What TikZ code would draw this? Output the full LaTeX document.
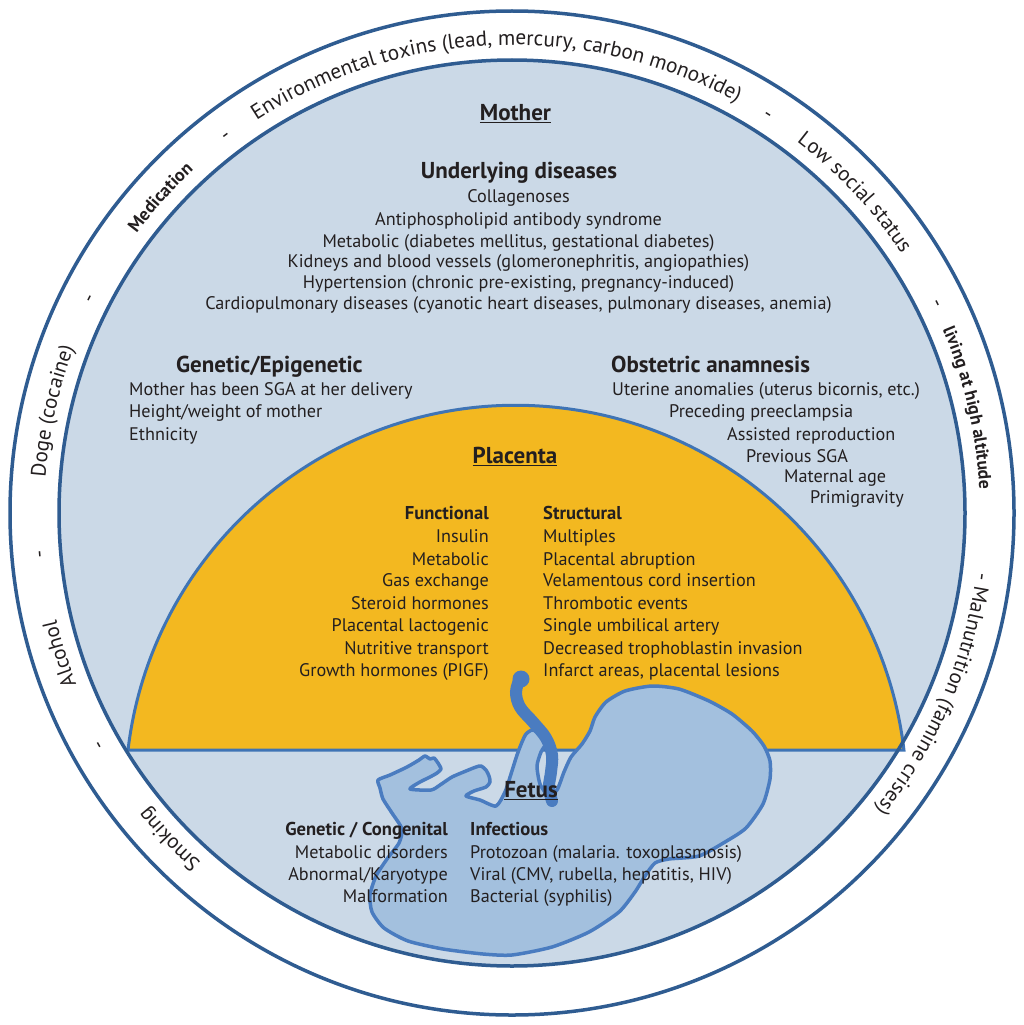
\documentclass[tikz,border=0pt]{standalone}
\usepackage{fontspec}
\setmainfont{PT Sans}
\usetikzlibrary{decorations.text}

\definecolor{ink}{HTML}{231F20}
\definecolor{mother}{HTML}{CBD9E7}
\definecolor{ringline}{HTML}{2F5C91}
\definecolor{placenta}{HTML}{F3B820}
\definecolor{placline}{HTML}{3F74B5}
\definecolor{fetusfill}{HTML}{A3C0DE}
\definecolor{fetusline}{HTML}{4A7CC0}

\tikzset{
  item/.style={inner sep=0pt, text=ink, font=\fontsize{18.2}{21}\selectfont},
  itemb/.style={item, font=\fontsize{18.6}{21}\selectfont\bfseries},
  head/.style={item, font=\fontsize{23}{26}\selectfont\bfseries},
  title/.style={item, font=\fontsize{23}{26}\selectfont\bfseries},
  ringline/.style={draw=ringline, line width=3.5pt},
}

% text set on the ring, clockwise, centred at angle #1
\newcommand\ringtext[3]{%
  \path[decorate, decoration={text along path, text align=center,
      text={|\color{ink}#3|#2}}]
    ([shift={(#1+45:468)}]C) arc[start angle=#1+45, end angle=#1-45, radius=468];}

\begin{document}
\begin{tikzpicture}[x=1pt, y=1pt]
\useasboundingbox (0,0) rectangle (1024,-1025);
\fill[white] (0,0) rectangle (1024,-1025);
\coordinate (C) at (512,-513);

% outer ring and mother disc
\fill[white] (C) circle (502);
\draw[ringline] (C) circle (502);
\fill[mother] (C) circle (453);

% placenta: circular segment above its base line
\filldraw[fill=placenta, draw=placline, line width=3pt]
  (128,-750) arc[start angle=173.24, end angle=6.76, radius=390.7] -- cycle;

% fetus
\filldraw[fill=fetusfill, draw=fetusline, line width=3.5pt, line join=round]
  plot[smooth cycle, tension=0.4] coordinates {
  (378,-780) (390,-775) (407,-767) (419,-760) (425,-756) (430,-759) (434,-758)
  (438,-763) (441,-769) (437,-773) (430,-777) (420,-782) (410,-789) (431,-790)
  (440,-785) (452,-777) (466,-771) (476,-767) (481,-766) (486,-770) (489,-776)
  (490,-782) (486,-787) (474,-791) (466,-796) (480,-800) (496,-806) (505,-792)
  (511,-774) (517,-755) (522,-742) (526,-734) (532,-730) (538,-732) (544,-736)
  (547,-742) (541,-752) (537,-766) (540,-784) (548,-795) (557,-790) (564,-772)
  (571,-757) (582,-744) (590,-731) (595,-717) (606,-702) (625,-691) (652,-686)
  (679,-689) (709,-701) (732,-714) (752,-731) (764,-746) (770,-761) (770,-779)
  (763,-804) (746,-828) (725,-842) (699,-856) (669,-859) (655,-863) (645,-876)
  (635,-892) (619,-912) (589,-932) (552,-947) (512,-955) (483,-954) (443,-949)
  (408,-941) (384,-928) (372,-912) (370,-895) (376,-876) (387,-859) (399,-843)
  (402,-829) (392,-813) (383,-799) (380,-788)};
% umbilical cord
\draw[fetusline, line width=12pt, line cap=round]
  plot[smooth, tension=0.6] coordinates {(520,-678) (516,-692) (520,-707)
  (533,-722) (546,-738) (552,-755) (551,-772) (549,-787) (552,-801)};
\fill[fetusline] (521,-679) circle (8.5);

% inner ring line on top
\draw[ringline] (C) circle (453);

% ring texts
\ringtext{92.2}{Environmental toxins (lead, mercury, carbon monoxide)}{\fontsize{21.3}{24}\selectfont}
\ringtext{57.3}{-}{\fontsize{21}{24}\selectfont}
\ringtext{43.1}{Low social status}{\fontsize{21}{24}\selectfont}
\ringtext{26.2}{-}{\fontsize{21}{24}\selectfont}
\ringtext{13.0}{living at high altitude}{\fontsize{17.8}{20}\selectfont\bfseries}
\ringtext{-23.2}{- Malnutrition (famine crises)}{\fontsize{21}{24}\selectfont}
\ringtext{223.6}{Smoking}{\fontsize{21}{24}\selectfont}
\ringtext{209.3}{-}{\fontsize{21}{24}\selectfont}
\ringtext{197.3}{Alcohol}{\fontsize{21}{24}\selectfont}
\ringtext{185}{-}{\fontsize{21}{24}\selectfont}
\ringtext{167.5}{Doge (cocaine)}{\fontsize{21}{24}\selectfont}
\ringtext{153.1}{-}{\fontsize{21}{24}\selectfont}
\ringtext{138.1}{Medication}{\fontsize{18}{21}\selectfont\bfseries}
\ringtext{127.2}{-}{\fontsize{21}{24}\selectfont}

% mother
\node[title, anchor=base] (mother) at (515.5,-120) {\underline{Mother}};
\node[head, anchor=base] (under) at (519,-178) {Underlying diseases};
\node[item, anchor=base] (u1) at (518.5,-202) {Collagenoses};
\node[item, anchor=base] (u2) at (518.5,-225) {Antiphospholipid antibody syndrome};
\node[item, anchor=base] (u3) at (518.5,-247) {Metabolic (diabetes mellitus, gestational diabetes)};
\node[item, anchor=base] (u4) at (518.5,-267) {Kidneys and blood vessels (glomeronephritis, angiopathies)};
\node[item, anchor=base] (u5) at (518.5,-288) {Hypertension (chronic pre-existing, pregnancy-induced)};
\node[item, anchor=base] (u6) at (518.5,-309) {Cardiopulmonary diseases (cyanotic heart diseases, pulmonary diseases, anemia)};

\node[head, anchor=base west] (gen) at (176,-372) {Genetic/Epigenetic};
\node[item, anchor=base west] (g1) at (129,-395) {Mother has been SGA at her delivery};
\node[item, anchor=base west] (g2) at (129,-417) {Height/weight of mother};
\node[item, anchor=base west] (g3) at (129,-440) {Ethnicity};

\node[head, anchor=base west] (obs) at (611,-372) {Obstetric anamnesis};
\node[item, anchor=base west] (o1) at (612,-395) {Uterine anomalies (uterus bicornis, etc.)};
\node[item, anchor=base west] (o2) at (669,-417) {Preceding preeclampsia};
\node[item, anchor=base west] (o3) at (727,-440) {Assisted reproduction};
\node[item, anchor=base west] (o4) at (746,-462) {Previous SGA};
\node[item, anchor=base west] (o5) at (784,-482) {Maternal age};
\node[item, anchor=base west] (o6) at (810,-503) {Primigravity};

% placenta
\node[title, anchor=base] (plac) at (515,-463) {\underline{Placenta}};
\node[itemb, anchor=base east] (fun) at (489,-519) {Functional};
\node[item, anchor=base east] (f1) at (489,-542) {Insulin};
\node[item, anchor=base east] (f2) at (489,-565) {Metabolic};
\node[item, anchor=base east] (f3) at (489,-586) {Gas exchange};
\node[item, anchor=base east] (f4) at (489,-609) {Steroid hormones};
\node[item, anchor=base east] (f5) at (489,-631) {Placental lactogenic};
\node[item, anchor=base east] (f6) at (489,-654) {Nutritive transport};
\node[item, anchor=base east] (f7) at (489,-676) {Growth hormones (PIGF)};
\node[itemb, anchor=base west] (str) at (543,-519) {Structural};
\node[item, anchor=base west] (s1) at (543,-542) {Multiples};
\node[item, anchor=base west] (s2) at (543,-565) {Placental abruption};
\node[item, anchor=base west] (s3) at (543,-586) {Velamentous cord insertion};
\node[item, anchor=base west] (s4) at (543,-609) {Thrombotic events};
\node[item, anchor=base west] (s5) at (543,-631) {Single umbilical artery};
\node[item, anchor=base west] (s6) at (543,-654) {Decreased trophoblastin invasion};
\node[item, anchor=base west] (s7) at (543,-676) {Infarct areas, placental lesions};

% fetus
\node[title, anchor=base] (fetus) at (531,-797) {\underline{Fetus}};
\node[itemb, anchor=base east] (gc) at (448,-835) {Genetic / Congenital};
\node[item, anchor=base east] (c1) at (448,-858) {Metabolic disorders};
\node[item, anchor=base east] (c2) at (448,-880) {Abnormal/Karyotype};
\node[item, anchor=base east] (c3) at (448,-902) {Malformation};
\node[itemb, anchor=base west] (inf) at (470,-835) {Infectious};
\node[item, anchor=base west] (i1) at (470,-858) {Protozoan (malaria. toxoplasmosis)};
\node[item, anchor=base west] (i2) at (470,-880) {Viral (CMV, rubella, hepatitis, HIV)};
\node[item, anchor=base west] (i3) at (470,-902) {Bacterial (syphilis)};
\end{tikzpicture}
\end{document}
